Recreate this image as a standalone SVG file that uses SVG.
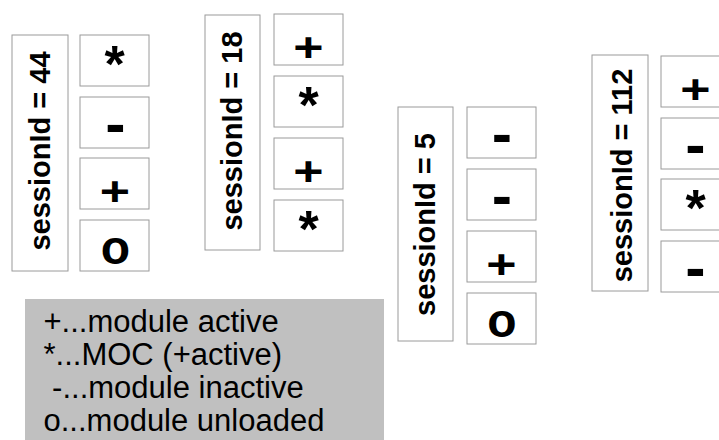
<svg xmlns="http://www.w3.org/2000/svg" width="719" height="440" viewBox="0 0 719 440">
<style>
.lbl{fill:#fff;stroke:#9a9a9a;stroke-width:1}
.box{fill:#fff;stroke:#9a9a9a;stroke-width:1}
.lt{font-family:"Liberation Sans",Arial,sans-serif;font-weight:bold;font-size:29px;fill:#000;text-anchor:middle}
.sym{font-family:"Liberation Sans",Arial,sans-serif;font-weight:bold;font-size:48px;fill:#000;text-anchor:middle}
.ast{font-size:52px}
.dash{font-family:"DejaVu Sans",sans-serif;font-size:50px}
.leg{font-family:"Liberation Sans",Arial,sans-serif;font-size:31px;fill:#000}
</style>
<rect width="719" height="440" fill="#fff"/>
<g id="session44">
  <rect class="lbl" x="12" y="35" width="56" height="236"/>
  <text class="lt" transform="translate(50,151) rotate(-90)">sessionId = 44</text>
  <rect class="box" x="80" y="35" width="69" height="51"/>
  <text class="sym ast" x="114.5" y="82">*</text>
  <rect class="box" x="80" y="97" width="69" height="51"/>
  <text class="sym dash" x="115.5" y="142.5">-</text>
  <rect class="box" x="80" y="158" width="69" height="51"/>
  <text class="sym" transform="translate(115,205) scale(1.08,0.86)">+</text>
  <rect class="box" x="80" y="220" width="69" height="51"/>
  <text class="sym" x="115.5" y="264">o</text>
</g>
<g id="session18">
  <rect class="lbl" x="205" y="15" width="55" height="235"/>
  <text class="lt" transform="translate(241.5,131) rotate(-90)">sessionId = 18</text>
  <rect class="box" x="274" y="14" width="69" height="51"/>
  <text class="sym" transform="translate(308.5,61) scale(1.08,0.86)">+</text>
  <rect class="box" x="274" y="76" width="69" height="51"/>
  <text class="sym ast" x="308.5" y="123">*</text>
  <rect class="box" x="274" y="138" width="69" height="51"/>
  <text class="sym" transform="translate(308.5,185) scale(1.08,0.86)">+</text>
  <rect class="box" x="274" y="200" width="69" height="51"/>
  <text class="sym ast" x="308.5" y="247">*</text>
</g>
<g id="session5">
  <rect class="lbl" x="398" y="107" width="55" height="234"/>
  <text class="lt" transform="translate(435,224.5) rotate(-90)">sessionId = 5</text>
  <rect class="box" x="467" y="107" width="69" height="51"/>
  <text class="sym dash" x="502" y="152.5">-</text>
  <rect class="box" x="467" y="169" width="69" height="51"/>
  <text class="sym dash" x="502" y="214.5">-</text>
  <rect class="box" x="467" y="231" width="69" height="51"/>
  <text class="sym" transform="translate(501.5,278) scale(1.08,0.86)">+</text>
  <rect class="box" x="467" y="293" width="69" height="51"/>
  <text class="sym" x="502" y="337">o</text>
</g>
<g id="session112">
  <rect class="lbl" x="592" y="55" width="56" height="236"/>
  <text class="lt" transform="translate(631.5,175.5) rotate(-90)">sessionId = 112</text>
  <rect class="box" x="661" y="56" width="69" height="51"/>
  <text class="sym" transform="translate(695.5,103) scale(1.08,0.86)">+</text>
  <rect class="box" x="661" y="118" width="69" height="51"/>
  <text class="sym dash" x="695.5" y="163.5">-</text>
  <rect class="box" x="661" y="179" width="69" height="51"/>
  <text class="sym ast" x="695.5" y="226">*</text>
  <rect class="box" x="661" y="241" width="69" height="51"/>
  <text class="sym dash" x="695.5" y="286.5">-</text>
</g>
<g id="legend">
  <rect x="25" y="299" width="359" height="141" fill="#c0c0c0"/>
  <text class="leg" x="43.5" y="332">+...module active</text>
  <text class="leg" x="43.5" y="365">*...MOC (+active)</text>
  <text class="leg" x="43.5" y="398" xml:space="preserve"> -...module inactive</text>
  <text class="leg" x="43.5" y="431">o...module unloaded</text>
</g>
<g id="connectors"></g>
</svg>
